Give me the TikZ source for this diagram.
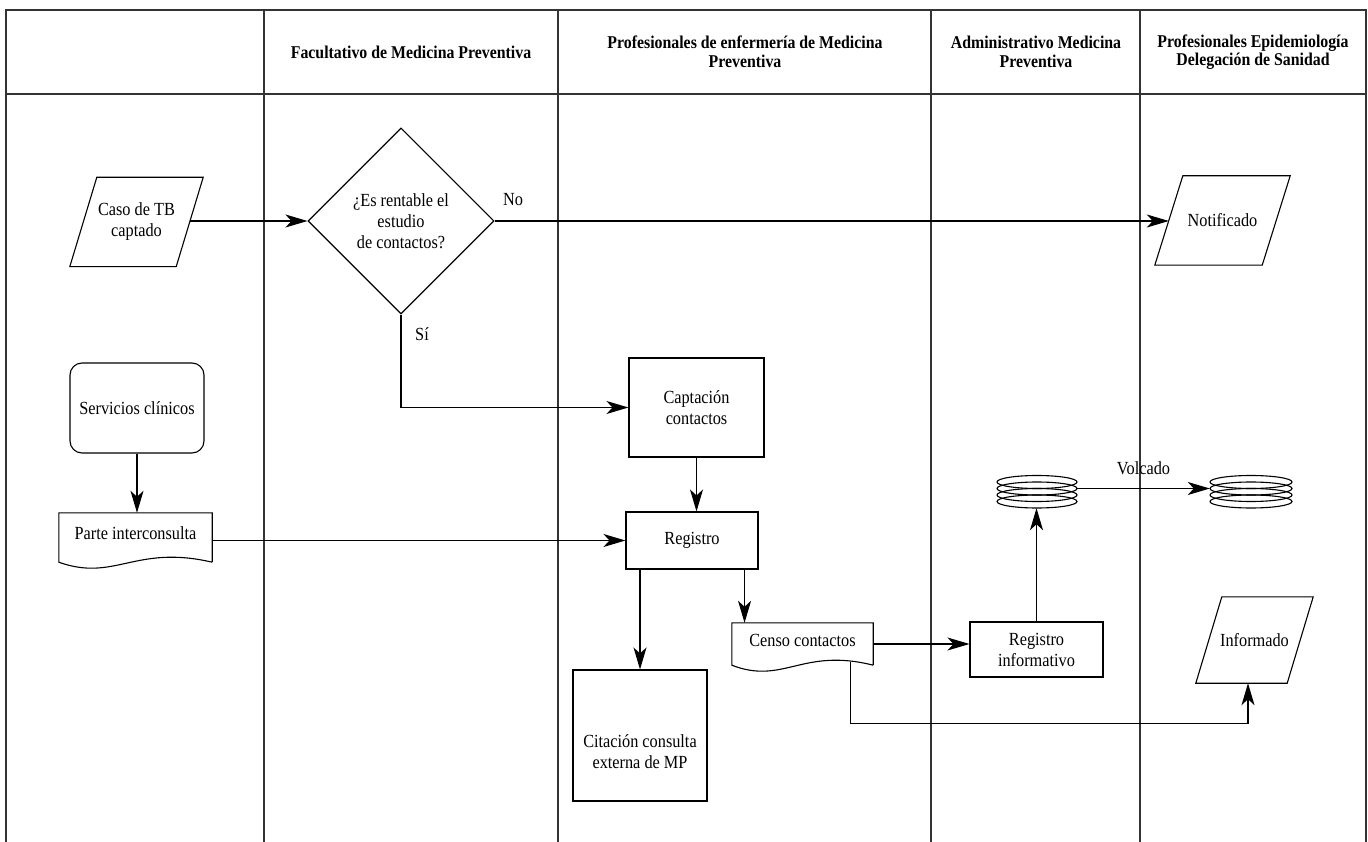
\documentclass[tikz,border=0pt]{standalone}
\usepackage{fontspec}
\setmainfont{Liberation Serif}[FakeStretch=0.88]
\usetikzlibrary{shapes.geometric,arrows.meta,calc}
\newcommand\drawdoc[1]{\draw[conn] (#1.south east) -- (#1.north east) -- (#1.north west) -- (#1.south west) .. controls ($(#1.south west)!0.366!(#1.south east)+(0,20)$) and ($(#1.south west)!0.497!(#1.south east)+(0,-18)$) .. (#1.south east);}
\newcommand\drawpara[2]{\draw[conn] ($(#1.north west)+(#2,0)$) -- (#1.north east) -- ($(#1.south east)+(-#2,0)$) -- (#1.south west) -- cycle;}
\begin{document}
\begin{tikzpicture}[x=1pt,y=-1pt,
  lane/.style={line width=1.3pt, draw=black!80},
  conn/.style={line width=1.1pt},
  arr/.style={conn, -{Stealth[length=22pt,width=13pt,inset=6pt]}},
  txt/.style={font=\fontsize{18.5}{21}\selectfont, align=center},
  hdr/.style={font=\bfseries\fontsize{18}{18.5}\selectfont, align=center},
  boxn/.style={txt, draw, line width=1.1pt, rectangle, inner sep=0pt},
  paran/.style={txt, rectangle, inner sep=0pt},
  docn/.style={txt, rectangle, inner sep=0pt, text depth=8pt},
]
\useasboundingbox (0,0) rectangle (1368,842);
% lanes
\draw[lane] (6,842) -- (6,10) -- (1366,10) -- (1366,842);
\draw[lane] (6,94) -- (1366,94);
\foreach \x in {264,558,931,1140} \draw[lane] (\x,10) -- (\x,842);
% headers
\node[hdr] (h1) at (411,52) {Facultativo de Medicina Preventiva};
\node[hdr] (h2) at (745,52) {Profesionales de enfermería de Medicina\\Preventiva};
\node[hdr] (h3) at (1036,52) {Administrativo Medicina\\Preventiva};
\node[hdr] (h4) at (1253,52) {Profesionales Epidemiología\\Delegación de Sanidad};
% shapes
\node[paran, minimum width=133, minimum height=89] (caso) at (136.5,222) {Caso de TB\\captado};
\drawpara{caso}{27}
\node[txt, draw, diamond, minimum width=186, minimum height=186, inner sep=0pt, line width=1.1pt] (dia) at (401,221) {¿Es rentable el\\estudio\\de contactos?};
\node[paran, minimum width=135, minimum height=89] (notif) at (1222.5,220.5) {Notificado};
\drawpara{notif}{28}
\node[boxn, rounded corners=12pt, minimum width=134, minimum height=90] (serv) at (137,408) {Servicios clínicos};
\node[docn, minimum width=153, minimum height=49] (parte) at (135.5,537.5) {Parte interconsulta};
\drawdoc{parte}
\node[boxn, minimum width=135, minimum height=99] (capt) at (696.5,407.5) {Captación\\contactos};
\node[boxn, minimum width=132, minimum height=57] (reg) at (692,540.5) {Registro};
\node[draw, line width=1.1pt, rectangle, inner sep=0pt, minimum width=134, minimum height=131] (cita) at (640,735.5) {};
\node[txt] (citatxt) at (640,752) {Citación consulta\\externa de MP};
\node[docn, minimum width=141, minimum height=42] (censo) at (802.5,644) {Censo contactos};
\drawdoc{censo}
\node[boxn, minimum width=133, minimum height=55] (regi) at (1036.5,649.5) {Registro\\informativo};
\node[paran, minimum width=117, minimum height=86] (inform) at (1254.5,640) {Informado};
\drawpara{inform}{26}
\node[inner sep=0pt, minimum width=80, minimum height=33] (db1) at (1037,491.5) {};
\node[inner sep=0pt, minimum width=82, minimum height=33] (db2) at (1251,491.5) {};
\foreach \dy in {-9.5,-3,3.5,10} {
  \draw[conn] ($(db1.center)+(0,\dy)$) ellipse [x radius=40, y radius=6.5];
  \draw[conn] ($(db2.center)+(0,\dy)$) ellipse [x radius=41, y radius=6.5];
}
% labels
\node[txt] (no) at (513,200) {No};
\node[txt] (si) at (422,334) {Sí};
% connectors
\coordinate (casoout) at ($(caso.east)+(-13.5,-1)$);
\draw[arr] (casoout) -- (casoout -| dia.west);
\coordinate (notifin) at ($(notif.west)+(14,0)$);
\draw[arr] (dia.east) -- (dia.east -| notifin);
\draw[arr] (dia.south) |- (capt.west);
\draw[arr] (capt.south) -- (capt.south |- reg.north);
\draw[arr] (serv.south) -- (serv.south |- parte.north);
\draw[arr] (reg.west -| parte.east) -- (reg.west);
\draw[arr] (cita.north |- reg.south) -- (cita.north);
\coordinate (rs) at ($(reg.south east)+(-14,0)$);
\draw[arr] (rs) -- (rs |- censo.north);
\draw[arr] (censo.east) -- (censo.east -| regi.west);
\coordinate (cs) at ($(censo.south west)+(119,-3)$);
\coordinate (turn) at ($(cs)+(0,61)$);
\coordinate (infin) at ($(inform.south)+(-6.5,0)$);
\draw[arr] (cs) -- (turn) -| (infin);
\draw[arr] (regi.north) -- (regi.north |- db1.south);
\draw[arr] ($(db1.east)+(0,-3)$) -- node[txt, above=10pt] (volc) {Volcado} ($(db2.west)+(0,-3)$);
\end{tikzpicture}
\end{document}
